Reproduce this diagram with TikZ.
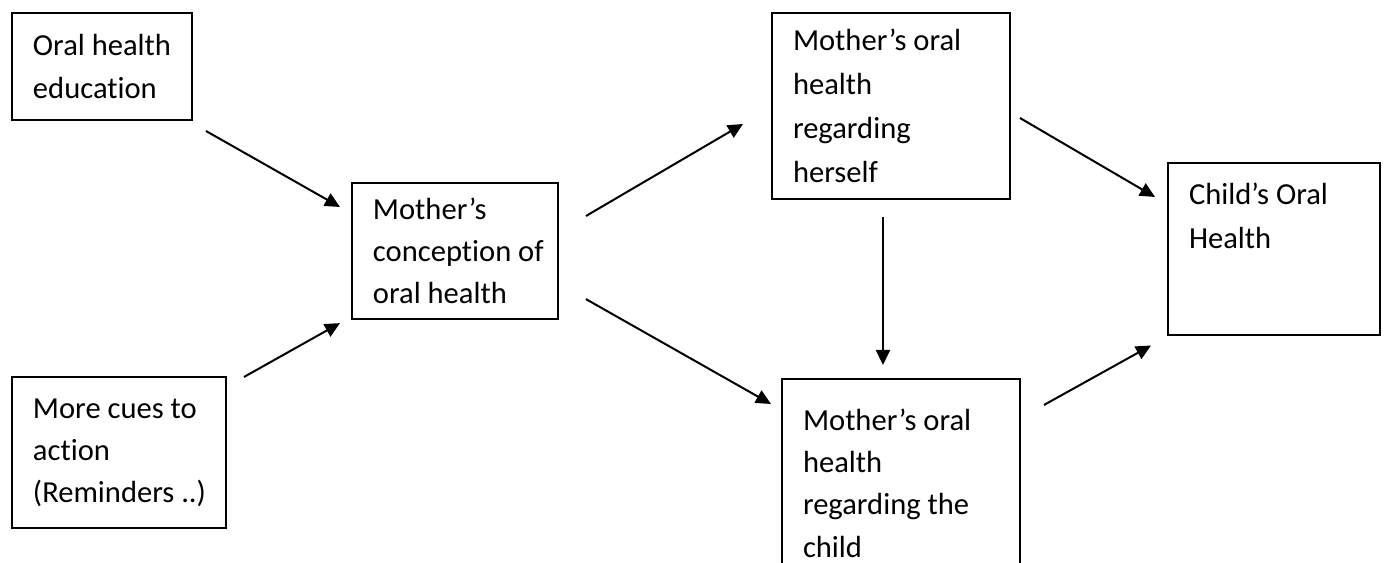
\documentclass[tikz,border=0pt]{standalone}
\usepackage{fontspec}
\setmainfont{Carlito}[Ligatures={TeX,NoCommon}]
\usetikzlibrary{arrows.meta,positioning}
\newcommand{\boxfont}[1]{\fontsize{17.4}{#1}\selectfont\spaceskip=\fontdimen2\font\relax}

\begin{document}
\begin{tikzpicture}[x=0.02cm,y=-0.02cm,
  box/.style={draw,line width=0.04cm,anchor=north west,align=flush left,inner xsep=0.42cm,inner ysep=0.3cm,font=\boxfont{24}},
  arr/.style={line width=0.04cm,-{Triangle[length=0.3cm,width=0.28cm]}}]
  \useasboundingbox (0,0) rectangle (1384,563);
  \node[box,text width=2.76cm,minimum height=2.14cm] (edu) at (11,12) {Oral~health\\education};
  \node[box,text width=3.44cm,minimum height=3.02cm] (cues) at (11,376) {More~cues~to\\action\\(Reminders~..)};
  \node[box,text width=3.28cm,minimum height=2.72cm] (concept) at (351,182) {Mother’s\\conception~of\\oral~health};
  \node[box,text width=3.92cm,minimum height=3.72cm,font=\boxfont{25}] (herself) at (771,12) {Mother’s~oral\\health\\regarding\\herself};
  \node[box,text width=3.92cm,inner ysep=0.6cm] (childm) at (781,378) {Mother’s~oral\\health\\regarding~the\\child};
  \node[box,text width=3.4cm,inner ysep=0.4cm,text depth=2.2cm,font=\boxfont{25}] (oral) at (1167,162) {Child’s~Oral\\Health};
  \draw[arr] ([shift={(13,10)}]edu.south east) -- ([shift={(-11,25)}]concept.north west);
  \draw[arr] ([shift={(17,1)}]cues.north east) -- ([shift={(-11,3)}]concept.south west);
  \draw[arr] ([shift={(27,34)}]concept.north east) -- ([shift={(-28,112)}]herself.north west);
  \draw[arr] ([shift={(27,-21)}]concept.south east) -- ([shift={(-10,26)}]childm.north west);
  \draw[arr] ([shift={(-8,17)}]herself.south) -- ([shift={(-18,-13)}]childm.north);
  \draw[arr] ([shift={(9,106)}]herself.north east) -- ([shift={(-12,35)}]oral.north west);
  \draw[arr] ([shift={(23,27)}]childm.north east) -- ([shift={(-16,10)}]oral.south west);
\end{tikzpicture}
\end{document}
